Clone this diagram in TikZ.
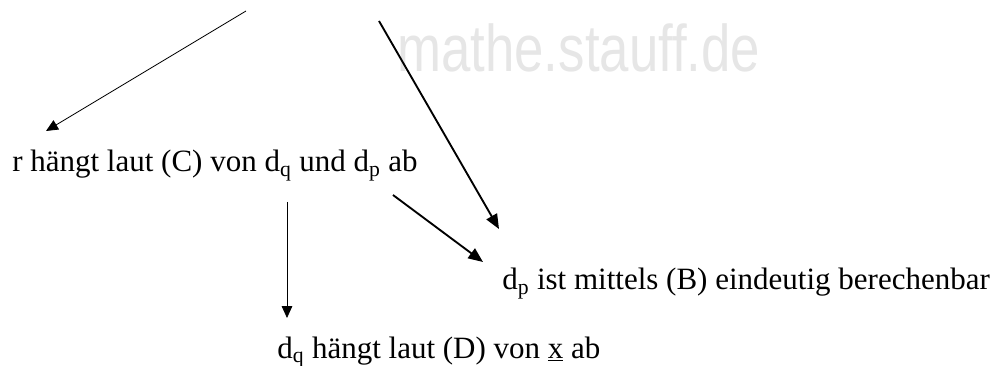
\documentclass[tikz,border=0pt]{standalone}
\usepackage{fontspec}
\setmainfont{Liberation Serif}
\newfontfamily\wmfont{Liberation Sans}
\usetikzlibrary{arrows.meta}
\definecolor{wmgray}{HTML}{E6E6E6}
\tikzset{
  lbl/.style={anchor=base west, inner sep=0pt, font=\fontsize{23.25pt}{28pt}\selectfont},
  thinarrow/.style={line width=0.6pt, -{Triangle[length=9pt,width=8pt]}},
  thickarrow/.style={line width=1.4pt, -{Triangle[length=11pt,width=9pt]}},
}
\begin{document}
\begin{tikzpicture}[x=0.75pt,y=-0.75pt]
\useasboundingbox (0,0) rectangle (998,366);
\node[anchor=base west, inner sep=0pt, text=wmgray, xscale=0.8, transform shape,
      font=\wmfont\fontsize{49.5pt}{60pt}\selectfont] (wm) at (397,72) {mathe.stauff.de};
\node[lbl] (r) at (12,172) {r hängt laut (C) von d\textsubscript{q} und d\textsubscript{p} ab};
\node[lbl] (dp) at (502,290) {d\textsubscript{p} ist mittels (B) eindeutig berechenbar};
\node[lbl] (dq) at (277,358) {d\textsubscript{q} hängt laut (D) von \underline{x} ab};
\coordinate (s1) at (246,11);
\coordinate (e1) at (46,131);
\coordinate (s2) at (379,21);
\coordinate (e2) at (499,229);
\coordinate (s3) at (393,195);
\coordinate (e3) at (483,262);
\coordinate (s4) at (287,202);
\coordinate (e4) at (287,318);
\draw[thinarrow] (s1) -- (e1);
\draw[thickarrow] (s2) -- (e2);
\draw[thickarrow] (s3) -- (e3);
\draw[thinarrow] (s4) -- (e4);
\end{tikzpicture}
\end{document}
